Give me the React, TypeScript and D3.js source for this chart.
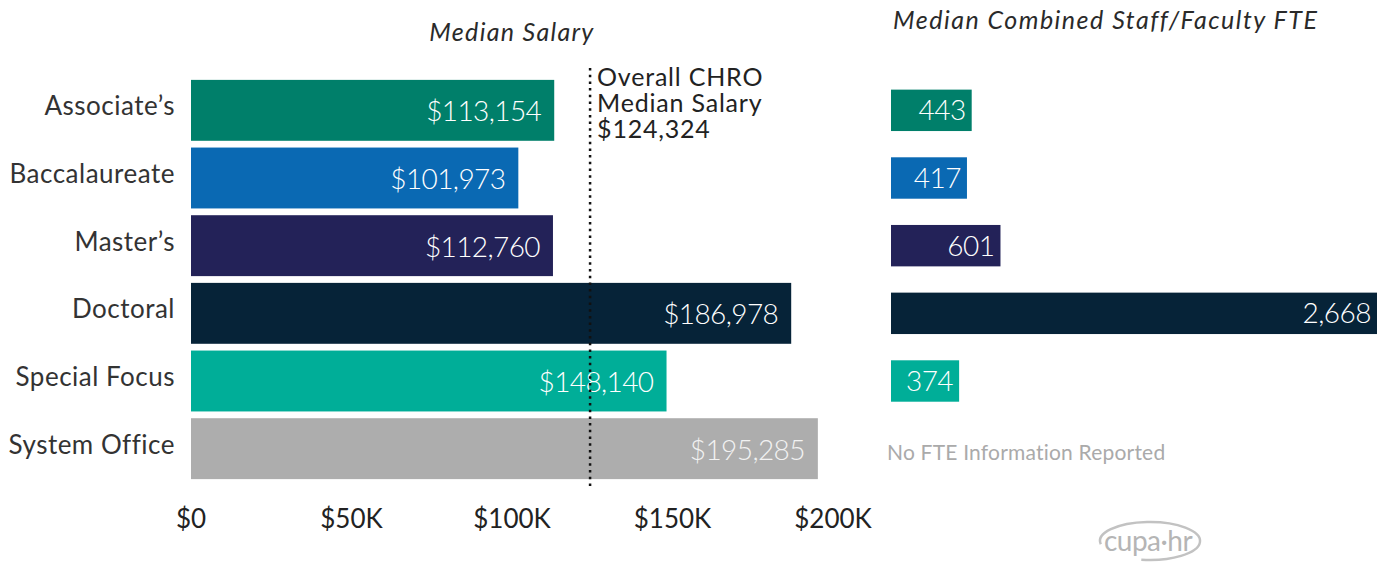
import * as d3 from 'd3';

// chart data
const categories = ["Associate’s", "Baccalaureate", "Master’s", "Doctoral", "Special Focus", "System Office"];
const salaries = [113154, 101973, 112760, 186978, 148140, 195285];
const fte: (number | null)[] = [443, 417, 601, 2668, 374, null];
const barColors = ["#007f6a", "#0a69b3", "#232258", "#062338", "#00ae98", "#adadad"];
const salaryTicks = [0, 50000, 100000, 150000, 200000];
const overallMedian = 124324;
const overallLabel = ["Overall CHRO", "Median Salary", "$124,324"];

const W = 1389;
const H = 565;
const FONT = "Lato, 'Open Sans', sans-serif";

export default function App() {
  const x = d3.scaleLinear().domain([0, 200000]).range([191, 833]);
  const xFte = d3.scaleLinear()
    .domain([0, d3.max(fte, d => d ?? 0) as number])
    .range([891, 1377]);
  const y = d3.scaleBand<string>()
    .domain(categories)
    .range([76.5, 482.5])
    .paddingInner(0.1)
    .paddingOuter(0.05);

  const money = d3.format("$,");
  const comma = d3.format(",");
  const tickFmt = (v: number) => (v === 0 ? "$0" : `$${v / 1000}K`);
  const bw = y.bandwidth();
  const fteH = bw * 0.68;

  return (
    <svg width={W} height={H} style={{ position: "absolute", left: 0, top: 0, background: "#fff" }}
      fontFamily={FONT}>
      {/* titles */}
      <text x={512} y={41} textAnchor="middle" fontSize={25} fontStyle="italic"
        letterSpacing={1.3} fill="#2a2a2a">
        Median Salary
      </text>
      <text x={893} y={29} fontSize={25} fontStyle="italic" letterSpacing={1.5} fill="#2a2a2a">
        Median Combined Staff/Faculty FTE
      </text>

      {/* salary bars */}
      {categories.map((c, i) => {
        const y0 = y(c)!;
        const cy = y0 + bw / 2;
        return (
          <g key={c}>
            <text x={175} y={cy + 5} textAnchor="end" fontSize={26} letterSpacing={0.5} fill="#333">{c}</text>
            <rect x={x(0)} y={y0} width={x(salaries[i]) - x(0)} height={bw} fill={barColors[i]} />
            <text x={x(salaries[i]) - 13} y={cy + 11} textAnchor="end" fontSize={28} letterSpacing={-0.6}
              fontWeight={300} fill={i === 5 ? "#f2f2f2" : "#fff"}>
              {money(salaries[i])}
            </text>
          </g>
        );
      })}

      {/* overall median line */}
      <line x1={x(overallMedian)} x2={x(overallMedian)} y1={68} y2={490}
        stroke="#111" strokeWidth={2.5} strokeDasharray="2.5,4.2" />
      <text fontSize={25} letterSpacing={0.8} fill="#222">
        {overallLabel.map((t, i) => (
          <tspan key={t} x={x(overallMedian) + 7} y={86 + i * 26}>{t}</tspan>
        ))}
      </text>

      {/* salary axis labels */}
      {salaryTicks.map(t => (
        <text key={t} x={x(t)} y={528} textAnchor="middle" fontSize={26} fill="#222">
          {tickFmt(t)}
        </text>
      ))}

      {/* FTE bars */}
      {categories.map((c, i) => {
        const v = fte[i];
        const cy = y(c)! + bw / 2;
        if (v == null) {
          return (
            <text key={c} x={887} y={cy + 11} fontSize={21} letterSpacing={0.2} fill="#aaa">
              No FTE Information Reported
            </text>
          );
        }
        return (
          <g key={c}>
            <rect x={xFte(0)} y={cy - fteH / 2} width={xFte(v) - xFte(0)} height={fteH} fill={barColors[i]} />
            <text x={xFte(v) - 6} y={cy + 10} textAnchor="end" fontSize={28} letterSpacing={-0.5}
              fontWeight={300} fill="#fff">
              {comma(v)}
            </text>
          </g>
        );
      })}

      {/* logo */}
      <g transform="translate(1150,541)">
        <path d="M -49.2 3.3 A 50 19 0 1 1 -8.7 18.7" fill="none" stroke="#c2c2c2" strokeWidth={2.5} />
        <text x={-2} y={10} textAnchor="middle" fontSize={28} fill="#b5b5b5" letterSpacing={-0.5}>cupa·hr</text>
      </g>
    </svg>
  );
}
